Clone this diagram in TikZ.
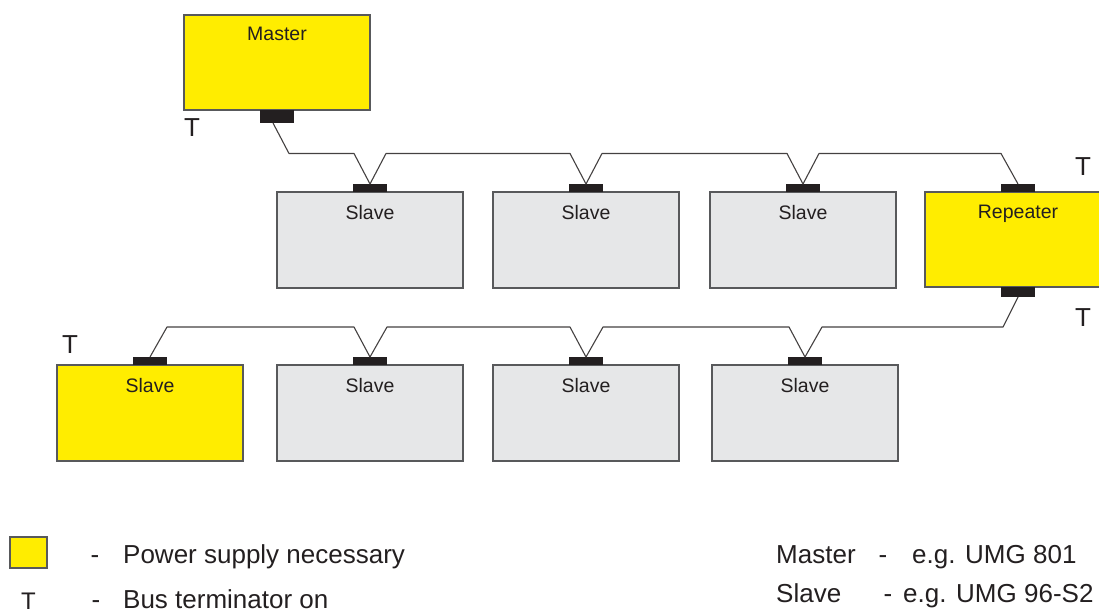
\documentclass[tikz,border=0pt]{standalone}
\usepackage{fontspec}
\setmainfont{Liberation Sans}
\usetikzlibrary{calc}
\definecolor{ylw}{HTML}{FFED00}
\definecolor{gry}{HTML}{E6E7E8}
\definecolor{brd}{HTML}{58595B}
\definecolor{ink}{HTML}{231F20}
\tikzset{
  box/.style={draw=brd,line width=1.1pt,minimum width=186pt,minimum height=96pt,inner sep=0pt,outer sep=0pt},
  ybox/.style={box,fill=ylw},
  gbox/.style={box,fill=gry},
  tab/.style={fill=ink,draw=none,minimum width=34pt,minimum height=8pt,inner sep=0pt,outer sep=0pt},
  wire/.style={draw=ink!85,line width=1.1pt,line join=round},
  boxlbl/.style={font=\fontsize{19.5}{22}\selectfont,text=ink,anchor=base,inner sep=0pt},
  tlbl/.style={font=\fontsize{26}{30}\selectfont,text=ink,anchor=base,inner sep=0pt},
  leg/.style={font=\fontsize{26}{30}\selectfont,text=ink,anchor=base west,inner sep=0pt},
  legc/.style={font=\fontsize{26}{30}\selectfont,text=ink,anchor=base,inner sep=0pt},
}
\begin{document}
\begin{tikzpicture}[x=1pt,y=-1pt]
\useasboundingbox (0,0) rectangle (1099,612);
% boxes
\node[ybox,minimum height=95pt] (m) at (277,62.5) {};
\node[boxlbl] (ml) at (277,41) {Master};
\node[gbox] (s1) at (370,240) {};
\node[gbox] (s2) at (586,240) {};
\node[gbox] (s3) at (803,240) {};
\node[ybox,minimum height=95pt] (r) at (1018,239.5) {};
\node[boxlbl] (s1l) at (370,219) {Slave};
\node[boxlbl] (s2l) at (586,219) {Slave};
\node[boxlbl] (s3l) at (803,219) {Slave};
\node[boxlbl] (rl) at (1018,218.5) {Repeater};
\node[ybox] (a) at (150,413) {};
\node[gbox] (b) at (370,413) {};
\node[gbox] (c) at (586,413) {};
\node[gbox] (d) at (805,413) {};
\node[boxlbl] (al) at (150,392) {Slave};
\node[boxlbl] (bl) at (370,392) {Slave};
\node[boxlbl] (cl) at (586,392) {Slave};
\node[boxlbl] (dl) at (805,392) {Slave};
% tabs
\node[tab,minimum height=13pt,anchor=north] (mt) at (m.south) {};
\node[tab,anchor=south] (s1t) at (s1.north) {};
\node[tab,anchor=south] (s2t) at (s2.north) {};
\node[tab,anchor=south] (s3t) at (s3.north) {};
\node[tab,anchor=south] (rt) at (r.north) {};
\node[tab,minimum height=10pt,anchor=north] (rb) at (r.south) {};
\node[tab,anchor=south] (at) at (a.north) {};
\node[tab,anchor=south] (bt) at (b.north) {};
\node[tab,anchor=south] (ct) at (c.north) {};
\node[tab,anchor=south] (dt) at (d.north) {};
% wires row 1
\draw[wire] ($(mt.south)+(-4,0)$) -- ++(16,30.5) -- ($(s1t.north)+(-16,-30.5)$) -- (s1t.north)
  -- ++(16,-30.5) -- ($(s2t.north)+(-16,-30.5)$) -- (s2t.north)
  -- ++(16,-30.5) -- ($(s3t.north)+(-16,-30.5)$) -- (s3t.north)
  -- ++(16,-30.5) -- ($(rt.north)+(-17,-30.5)$) -- (rt.north);
% wires row 2
\draw[wire] (rb.south) -- ++(-15,30) -- ($(dt.north)+(17,-30)$) -- (dt.north)
  -- ++(-16,-30) -- ($(ct.north)+(17,-30)$) -- (ct.north)
  -- ++(-16,-30) -- ($(bt.north)+(17,-30)$) -- (bt.north)
  -- ++(-16,-30) -- ($(at.north)+(17,-30)$) -- (at.north);
% terminators
\node[tlbl] (t1) at (192,137) {T};
\node[tlbl] (t2) at (1083,176) {T};
\node[tlbl] (t3) at (1083,326) {T};
\node[tlbl] (t4) at (70,353) {T};
% legend
\node[draw=brd,line width=1.1pt,fill=ylw,minimum width=37pt,minimum height=31pt,inner sep=0pt] (lsq) at (28.5,552.5) {};
\node[legc] (ld1) at (95,563) {-};
\node[leg] (lt1) at (123,563) {Power supply necessary};
\node[legc,font=\fontsize{24}{28}\selectfont] (lT) at (28.5,609) {T};
\node[legc] (ld2) at (96,608) {-};
\node[leg] (lt2) at (123,608) {Bus terminator on};
\node[leg] (rm) at (776,563) {Master};
\node[legc] (rd1) at (883,563) {-};
\node[leg] (rm2) at (912,563) {e.g. UMG 801};
\node[leg] (rs) at (776,602) {Slave};
\node[legc] (rd2) at (888,602) {-};
\node[leg] (rs2) at (903,602) {e.g. UMG 96-S2};
\end{tikzpicture}
\end{document}
